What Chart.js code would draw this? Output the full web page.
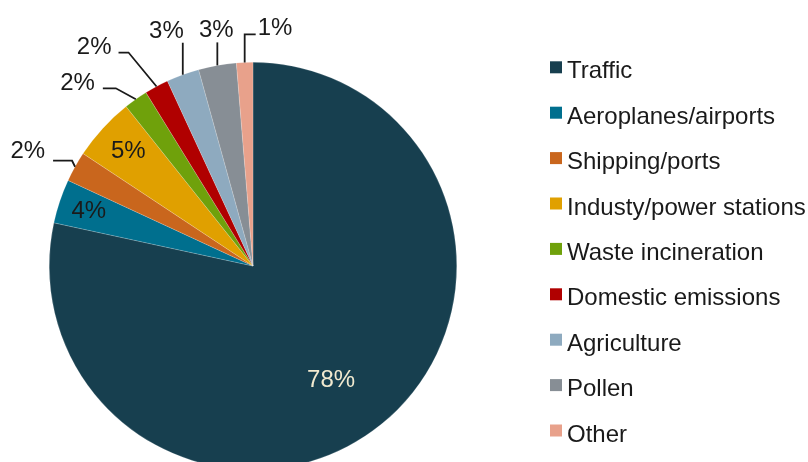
<!DOCTYPE html>
<html>
<head>
<meta charset="utf-8">
<script src="https://cdn.jsdelivr.net/npm/chart.js@4/dist/chart.umd.min.js"></script>
<style>
  html, body { margin: 0; padding: 0; overflow: hidden; background: #fff; }
  #wrap { position: absolute; left: 0; top: 0; width: 808px; height: 480px; }
</style>
</head>
<body>
<div id="wrap"><canvas id="pie"></canvas></div>
<script>
// data (share of particulate sources, %)
const categories = ['Traffic', 'Aeroplanes/airports', 'Shipping/ports', 'Industy/power stations',
  'Waste incineration', 'Domestic emissions', 'Agriculture', 'Pollen', 'Other'];
const shares = [78.4, 3.5, 2.4, 5.0, 1.9, 1.9, 2.6, 3.0, 1.3];
const shareLabels = ['78%', '4%', '2%', '5%', '2%', '2%', '3%', '3%', '1%'];
const sliceColors = ['#173f4f', '#006f8e', '#c9661d', '#e0a000', '#6fa10b', '#b00000', '#8eaabf', '#878e95', '#e8a18b'];

const FONT = '24px "Liberation Sans", Arial, sans-serif';
const INK = '#1a1a1a';

// where each percentage goes: inside at a fraction of radius, or outside with a leader line
// (leader points are offsets from the arc's outer edge at mid-angle)
const labelLayout = [
  { inside: 0.68, color: '#f2ead0', turn: 0.08 },
  { inside: 0.85, color: INK },
  { leader: [[-3, -6], [-22, -6]], text: [-8, -9], align: 'right' },
  { inside: 0.83, color: INK },
  { leader: [[-20, -11], [-33, -11]], text: [-8, -5], align: 'right' },
  { leader: [[-28, -34], [-38, -34]], text: [-7, -5], align: 'right' },
  { leader: [[0, -32]], text: [1, -11], align: 'right' },
  { leader: [[0, -23]], text: [-1, -12], align: 'center' },
  { leader: [[0, -28], [11, -28]], text: [2, -6], align: 'left' }
];

const pieLabels = {
  id: 'pieLabels',
  afterDatasetsDraw(chart) {
    const ctx = chart.ctx;
    const arcs = chart.getDatasetMeta(0).data;
    ctx.save();
    ctx.font = FONT;
    ctx.textBaseline = 'middle';
    arcs.forEach((arc, i) => {
      const p = arc.getProps(['x', 'y', 'startAngle', 'endAngle', 'outerRadius'], true);
      const L = labelLayout[i];
      const mid = (p.startAngle + p.endAngle) / 2 + (L.turn || 0);
      if (L.inside) {
        ctx.fillStyle = L.color;
        ctx.textAlign = 'center';
        ctx.fillText(shareLabels[i], p.x + Math.cos(mid) * p.outerRadius * L.inside,
          p.y + Math.sin(mid) * p.outerRadius * L.inside);
        return;
      }
      const ex = p.x + Math.cos(mid) * p.outerRadius;
      const ey = p.y + Math.sin(mid) * p.outerRadius;
      ctx.strokeStyle = INK;
      ctx.lineWidth = 1.8;
      ctx.beginPath();
      ctx.moveTo(ex, ey);
      L.leader.forEach(o => ctx.lineTo(ex + o[0], ey + o[1]));
      ctx.stroke();
      const end = L.leader[L.leader.length - 1];
      ctx.fillStyle = INK;
      ctx.textAlign = L.align;
      ctx.fillText(shareLabels[i], ex + end[0] + L.text[0], ey + end[1] + L.text[1]);
    });
    ctx.restore();
  }
};

const sideLegend = {
  id: 'sideLegend',
  afterDraw(chart) {
    const ctx = chart.ctx;
    ctx.save();
    ctx.font = FONT;
    ctx.textBaseline = 'alphabetic';
    ctx.textAlign = 'left';
    categories.forEach((name, i) => {
      const base = 78.3 + i * 45.4;
      ctx.fillStyle = sliceColors[i];
      ctx.fillRect(550, base - 17, 12, 12);
      ctx.fillStyle = INK;
      ctx.fillText(name, 567, base);
    });
    ctx.restore();
  }
};

new Chart(document.getElementById('pie').getContext('2d'), {
  type: 'pie',
  data: {
    labels: categories,
    datasets: [{
      data: shares,
      backgroundColor: sliceColors,
      borderColor: 'rgba(255,255,255,0.35)',
      borderWidth: 0.5
    }]
  },
  options: {
    responsive: true,
    maintainAspectRatio: false,
    animation: false,
    layout: { padding: { left: 49, top: 62, right: 351, bottom: 10 } },
    plugins: {
      legend: { display: false },
      tooltip: { enabled: false }
    }
  },
  plugins: [pieLabels, sideLegend]
});
</script>
</body>
</html>
